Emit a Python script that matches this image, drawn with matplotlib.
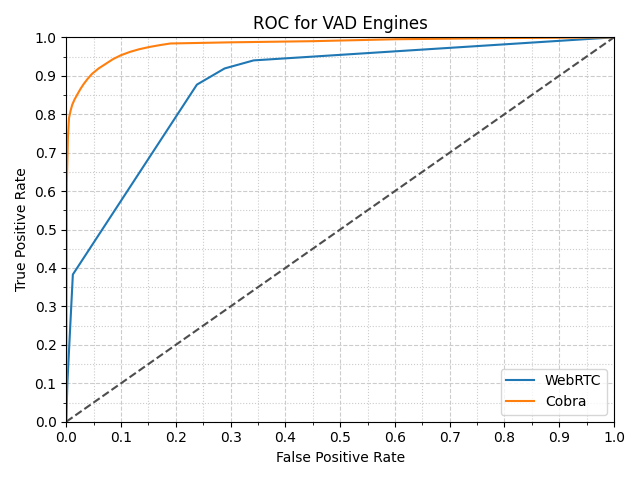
import numpy as np
import matplotlib.pyplot as plt
from matplotlib.ticker import MultipleLocator

# ROC points
webrtc_fpr = [0.0, 0.002, 0.012, 0.2385, 0.289, 0.342, 1.0]
webrtc_tpr = [0.0, 0.10, 0.383, 0.877, 0.919, 0.940, 1.0]

cobra_fpr = [0.0, 0.001, 0.003, 0.005, 0.008, 0.011, 0.015, 0.020, 0.026, 0.032,
             0.039, 0.047, 0.059, 0.072, 0.085, 0.099, 0.116, 0.133, 0.152, 0.172,
             0.19, 0.3, 0.45, 0.6, 0.8, 1.0]
cobra_tpr = [0.0, 0.62, 0.74, 0.79, 0.810, 0.825, 0.838, 0.851, 0.866, 0.879,
             0.892, 0.905, 0.919, 0.931, 0.943, 0.953, 0.962, 0.969, 0.975, 0.980,
             0.984, 0.987, 0.990, 0.995, 0.998, 1.0]

fig, ax = plt.subplots(figsize=(6.4, 4.8), dpi=100)

ax.plot(webrtc_fpr, webrtc_tpr, label="WebRTC")
ax.plot(cobra_fpr, cobra_tpr, label="Cobra")
ax.plot([0, 1], [0, 1], linestyle="--", color="0.3", linewidth=1.5)

ax.set_xlim(0, 1)
ax.set_ylim(0, 1)
ax.xaxis.set_major_locator(MultipleLocator(0.1))
ax.yaxis.set_major_locator(MultipleLocator(0.1))
ax.xaxis.set_minor_locator(MultipleLocator(0.05))
ax.yaxis.set_minor_locator(MultipleLocator(0.05))
ax.grid(which="major", linestyle="--", color="0.8")
ax.grid(which="minor", linestyle=":", color="0.8")

ax.set_title("ROC for VAD Engines")
ax.set_xlabel("False Positive Rate")
ax.set_ylabel("True Positive Rate")
ax.legend(loc="lower right")

fig.tight_layout()
fig.savefig("out.png")
